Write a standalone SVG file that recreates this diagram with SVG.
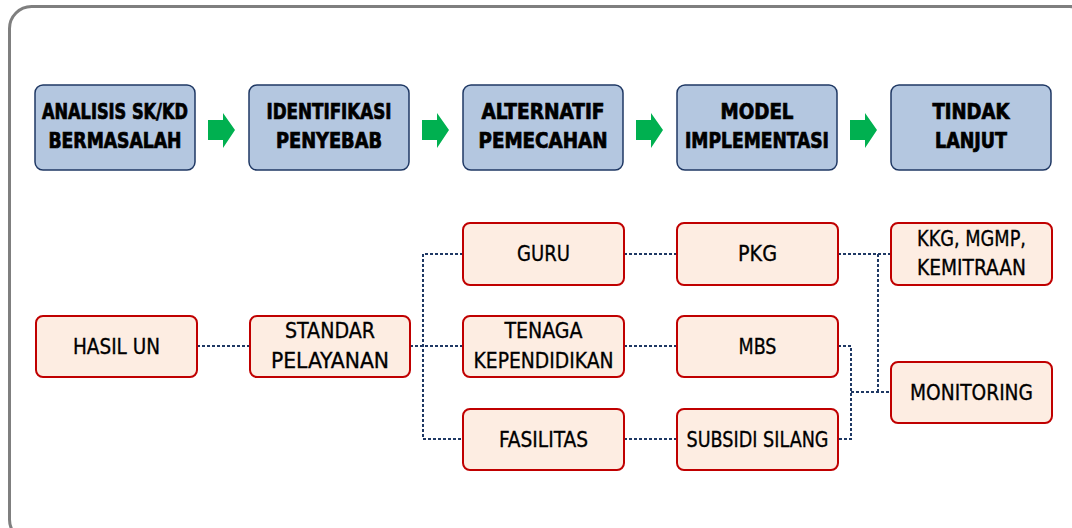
<svg xmlns="http://www.w3.org/2000/svg" width="1072" height="528" viewBox="0 0 1072 528">
<style>
.frame{fill:#fff;stroke:#7f7f7f;stroke-width:3}
.blue rect{fill:#b4c7e0;stroke:#1f3864;stroke-width:1.5}
.red rect{fill:#fdede2;stroke:#c00000;stroke-width:2}
.blue text{font-family:"DejaVu Sans Condensed","DejaVu Sans",sans-serif;font-weight:bold;font-size:21px;fill:#000;stroke:#000;stroke-width:0.7;text-anchor:middle}
.red text{font-family:"DejaVu Sans Condensed","DejaVu Sans",sans-serif;font-size:21px;fill:#000;stroke:#000;stroke-width:0.3;text-anchor:middle}
.conn path{fill:none;stroke:#1f3864;stroke-width:2;stroke-dasharray:3 2}
.arrow{fill:#00b050}
</style>
<rect class="frame" x="9.5" y="6.5" width="1082" height="535" rx="22"/>
<g id="arrows">
<path class="arrow" d="M208,120H223V113L235,130L223,148V140H208Z"/>
<path class="arrow" d="M422,120H437V113L449,130L437,148V140H422Z"/>
<path class="arrow" d="M636,120H651V113L663,130L651,148V140H636Z"/>
<path class="arrow" d="M850,120H865V113L877,130L865,148V140H850Z"/>
</g>
<g id="connectors" class="conn">
<path d="M197,346H250"/>
<path d="M410,346H463"/>
<path d="M463,254H423V439H463"/>
<path d="M624,254H677"/>
<path d="M624,346H677"/>
<path d="M624,439H677"/>
<path d="M838,254H891"/>
<path d="M878,254V392"/>
<path d="M838,346H851V439H838"/>
<path d="M851,392H891"/>
</g>
<g id="analisis" class="blue"><rect x="35" y="85" width="160" height="85" rx="8"/><text x="115" y="119" textLength="146" lengthAdjust="spacingAndGlyphs">ANALISIS SK/KD</text><text x="115" y="148" textLength="133" lengthAdjust="spacingAndGlyphs">BERMASALAH</text></g>
<g id="identifikasi" class="blue"><rect x="249" y="85" width="160" height="85" rx="8"/><text x="329" y="119" textLength="125" lengthAdjust="spacingAndGlyphs">IDENTIFIKASI</text><text x="329" y="148" textLength="106" lengthAdjust="spacingAndGlyphs">PENYEBAB</text></g>
<g id="alternatif" class="blue"><rect x="463" y="85" width="160" height="85" rx="8"/><text x="543" y="119" textLength="123" lengthAdjust="spacingAndGlyphs">ALTERNATIF</text><text x="543" y="148" textLength="129" lengthAdjust="spacingAndGlyphs">PEMECAHAN</text></g>
<g id="model" class="blue"><rect x="677" y="85" width="160" height="85" rx="8"/><text x="757" y="119" textLength="73" lengthAdjust="spacingAndGlyphs">MODEL</text><text x="757" y="148" textLength="144" lengthAdjust="spacingAndGlyphs">IMPLEMENTASI</text></g>
<g id="tindak" class="blue"><rect x="891" y="85" width="160" height="85" rx="8"/><text x="971" y="119" textLength="77" lengthAdjust="spacingAndGlyphs">TINDAK</text><text x="971" y="148" textLength="72" lengthAdjust="spacingAndGlyphs">LANJUT</text></g>
<g id="hasil" class="red"><rect x="36" y="316" width="161" height="61" rx="7"/><text x="116.5" y="354" textLength="87" lengthAdjust="spacingAndGlyphs">HASIL UN</text></g>
<g id="standar" class="red"><rect x="250" y="316" width="160" height="61" rx="7"/><text x="330" y="338" textLength="90" lengthAdjust="spacingAndGlyphs">STANDAR</text><text x="330" y="368" textLength="118" lengthAdjust="spacingAndGlyphs">PELAYANAN</text></g>
<g id="guru" class="red"><rect x="463" y="223" width="161" height="62" rx="7"/><text x="543.5" y="261" textLength="53" lengthAdjust="spacingAndGlyphs">GURU</text></g>
<g id="tenaga" class="red"><rect x="463" y="316" width="161" height="61" rx="7"/><text x="543.5" y="338" textLength="78" lengthAdjust="spacingAndGlyphs">TENAGA</text><text x="543.5" y="368" textLength="140" lengthAdjust="spacingAndGlyphs">KEPENDIDIKAN</text></g>
<g id="fasilitas" class="red"><rect x="463" y="409" width="161" height="61" rx="7"/><text x="543.5" y="447" textLength="89" lengthAdjust="spacingAndGlyphs">FASILITAS</text></g>
<g id="pkg" class="red"><rect x="677" y="223" width="161" height="62" rx="7"/><text x="757.5" y="261" textLength="39" lengthAdjust="spacingAndGlyphs">PKG</text></g>
<g id="mbs" class="red"><rect x="677" y="316" width="161" height="61" rx="7"/><text x="757.5" y="354" textLength="38" lengthAdjust="spacingAndGlyphs">MBS</text></g>
<g id="subsidi" class="red"><rect x="677" y="409" width="161" height="61" rx="7"/><text x="757.5" y="447" textLength="142" lengthAdjust="spacingAndGlyphs">SUBSIDI SILANG</text></g>
<g id="kkg" class="red"><rect x="891" y="223" width="161" height="62" rx="7"/><text x="971.5" y="246" textLength="109" lengthAdjust="spacingAndGlyphs">KKG, MGMP,</text><text x="971.5" y="275" textLength="109" lengthAdjust="spacingAndGlyphs">KEMITRAAN</text></g>
<g id="monitoring" class="red"><rect x="891" y="362" width="161" height="61" rx="7"/><text x="971.5" y="400" textLength="123" lengthAdjust="spacingAndGlyphs">MONITORING</text></g>
</svg>
